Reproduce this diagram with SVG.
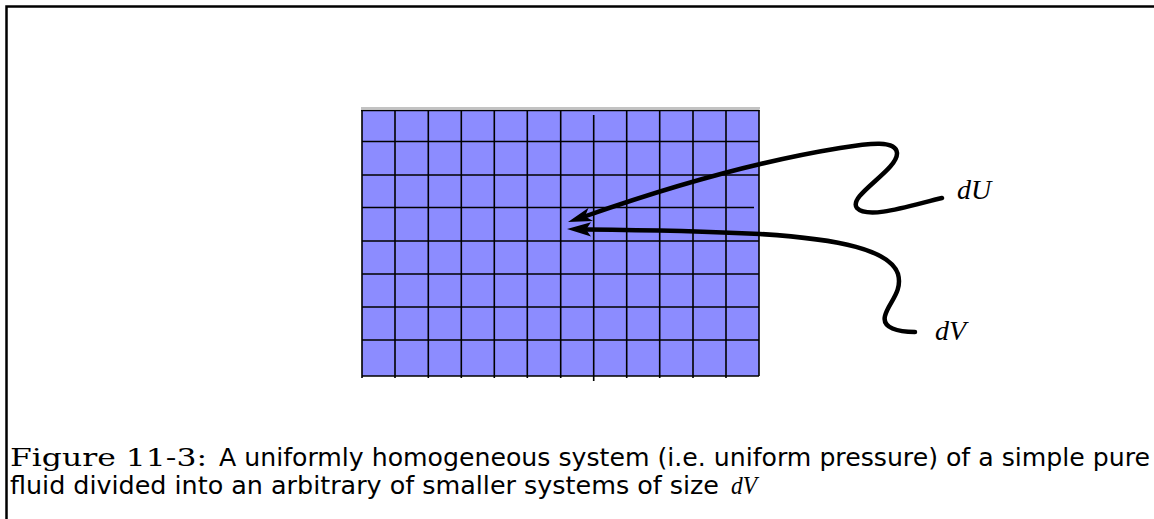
<svg xmlns="http://www.w3.org/2000/svg" width="1154" height="519" viewBox="0 0 1154 519">
<defs>
<style>
.g{stroke:#000;stroke-width:1.6;fill:none}
.w{stroke:#000;stroke-width:4.5;fill:none;stroke-linecap:round}
.ah{fill:#000}
.lbl{font-family:"Liberation Serif",serif;font-style:italic;font-size:28px;fill:#000}
.cap{font-family:"DejaVu Sans","Liberation Sans",sans-serif;font-size:24px;fill:#000}
.capr{font-family:"DejaVu Serif","Liberation Serif",serif;font-size:24px}
.capi{font-family:"Liberation Serif",serif;font-style:italic;font-size:25px}
</style>
</defs>
<rect width="1154" height="519" fill="#fff"/>
<g id="frame">
<path d="M6.5,519 V6.5 H1154" stroke="#000" stroke-width="2.5" fill="none"/>
</g>
<g id="grid">
<rect x="362" y="110" width="397" height="266" fill="#8c8cff"/>
<line x1="361" y1="108" x2="760" y2="108" stroke="#888" stroke-width="1.2"/>
<path class="g" d="M361,110.5H759.5 M362,141.5H759 M362,175H759 M362,207.5H754 M362,241H759 M362,274H759 M362,307H759 M362,340H759 M362,376H759"/>
<path class="g" d="M362,110V378 M395,110V378 M428.3,110V378 M461.3,110V378 M494.3,110V378 M527.3,110V378 M560.7,110V378 M593.7,115V381 M626.7,110V378 M659.7,110V378 M693,110V378 M726,110V378 M759,110V376"/>
</g>
<g id="connectors">
<path class="w" d="M942,198 C912,205 868,220 857,208 C847,196 898,170 897,153 C896,140 870,143 840,148 C760,161 680,183 586,216"/>
<path class="ah" d="M568,222 L588.6,207.7 L585,216.2 L593,220.9 Z"/>
<path class="w" d="M915,332 C898,332 882,328 885,316 C888,303 903,292 898,274 C890,250 840,239 760,234 C700,231 640,230 587,229.5"/>
<path class="ah" d="M567,229 L591,222.3 L586,229.4 L591,236.5 Z"/>
</g>
<g id="dU"><text class="lbl" x="957" y="199">dU</text></g>
<g id="dV"><text class="lbl" x="935" y="340">dV</text></g>
<g id="caption">
<text class="cap" x="10" y="466"><tspan class="capr" textLength="197" lengthAdjust="spacingAndGlyphs">Figure 11-3:</tspan><tspan x="219" textLength="931" lengthAdjust="spacingAndGlyphs">A uniformly homogeneous system (i.e. uniform pressure) of a simple pure</tspan></text>
<text class="cap" x="10" y="494"><tspan textLength="709" lengthAdjust="spacingAndGlyphs">fluid divided into an arbitrary of smaller systems of size</tspan><tspan class="capi" x="731" textLength="26" lengthAdjust="spacingAndGlyphs">dV</tspan></text>
</g>
</svg>
